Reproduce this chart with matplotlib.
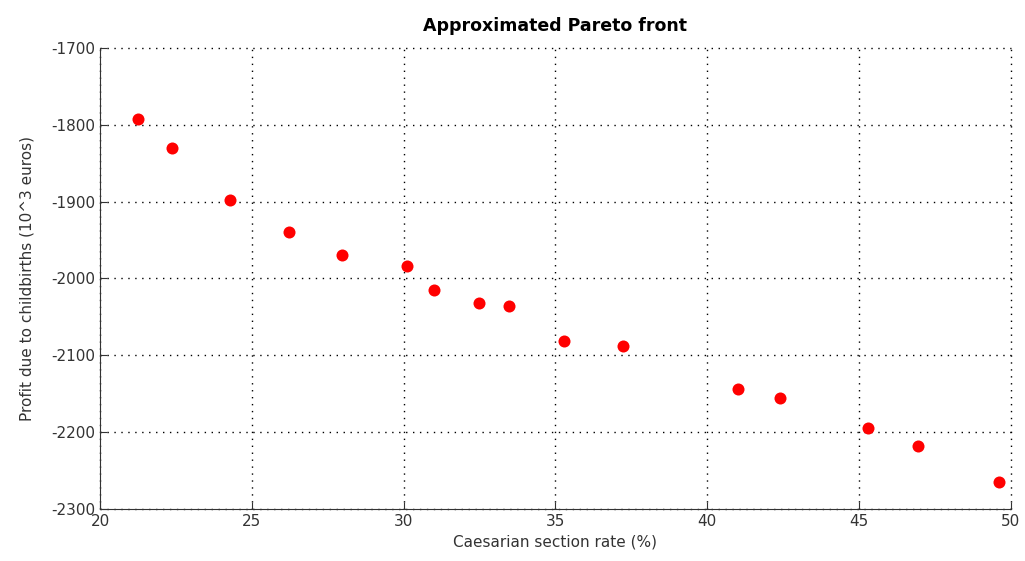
import matplotlib
matplotlib.use('Agg')
import matplotlib.pyplot as plt

# Pareto front points
caesarianRate = [21.26, 22.36, 24.28, 26.23, 27.97, 30.11, 31.00, 32.48, 33.47,
                 35.28, 37.23, 41.01, 42.40, 45.29, 46.94, 49.62]
profit = [-1793, -1830, -1898, -1939, -1970, -1984, -2015, -2032, -2036,
          -2082, -2088, -2144, -2156, -2195, -2218, -2265]

xTicks = [20, 25, 30, 35, 40, 45, 50]
yTicks = [-2300, -2200, -2100, -2000, -1900, -1800, -1700]

plt.rcParams['font.family'] = ['DejaVu Sans']
plt.rcParams['axes.unicode_minus'] = False

fig = plt.figure(figsize=(10.25, 5.61), dpi=100)
ax = fig.add_axes([0.0976, 0.0927, 0.8885, 0.822])

ax.scatter(caesarianRate, profit, s=75, color='red', zorder=3, linewidths=0)

ax.set_xlim(20, 50)
ax.set_ylim(-2300, -1700)
ax.set_xticks(xTicks)
ax.set_yticks(yTicks)
ax.tick_params(direction='in', length=5, labelsize=11, colors='#333333')
ax.grid(True, linestyle=(0, (1, 4)), color='black', linewidth=1)
# keep the edge grid lines (x=50, y=-1700) visible
for gl in ax.get_xgridlines() + ax.get_ygridlines():
    gl.set_clip_on(False)

for side in ['top', 'right']:
    ax.spines[side].set_visible(False)
for side in ['left', 'bottom']:
    ax.spines[side].set_color('#333333')

ax.set_title('Approximated Pareto front', fontsize=12.5, fontweight='bold', pad=12)
ax.set_xlabel('Caesarian section rate (%)', fontsize=11, color='#333333')
ax.set_ylabel('Profit due to childbirths (10^3 euros)', fontsize=11, color='#333333', labelpad=12)

fig.savefig('out.png', dpi=100)
